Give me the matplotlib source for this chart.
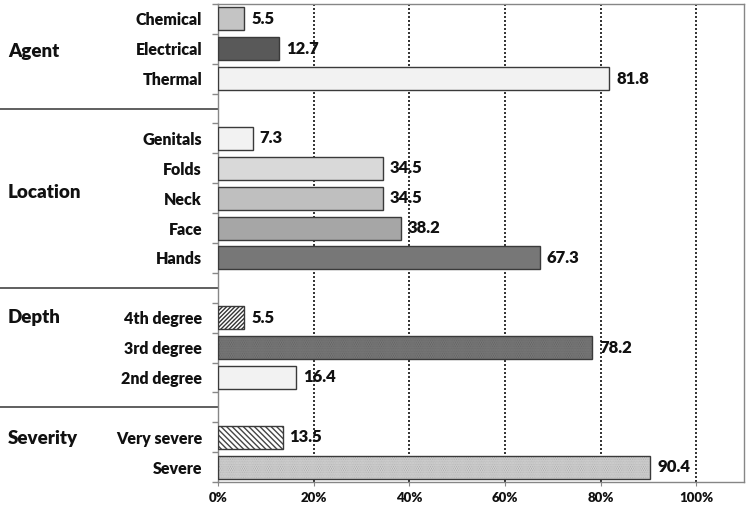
import matplotlib
matplotlib.use("Agg")
import matplotlib.pyplot as plt
import matplotlib.transforms as mtransforms
import numpy as np

plt.rcParams['font.family'] = ['Lato', 'DejaVu Sans']
plt.rcParams['font.weight'] = 'bold'

# ---- data ----
group_names = ['Agent', 'Location', 'Depth', 'Severity']
agent_labels = ['Chemical', 'Electrical', 'Thermal']
agent_values = [5.5, 12.7, 81.8]
location_labels = ['Genitals', 'Folds', 'Neck', 'Face', 'Hands']
location_values = [7.3, 34.5, 34.5, 38.2, 67.3]
depth_labels = ['4th degree', '3rd degree', '2nd degree']
depth_values = [5.5, 78.2, 16.4]
severity_labels = ['Very severe', 'Severe']
severity_values = [13.5, 90.4]
x_ticks = [0, 20, 40, 60, 80, 100]
x_tick_labels = ['0%', '20%', '40%', '60%', '80%', '100%']

# ---- styles (per bar, same order as data) ----
agent_styles = [dict(fc='#c4c4c4'), dict(fc='#595959'), dict(fc='#f2f2f2')]
location_styles = [dict(fc='#f2f2f2'), dict(fc='#d9d9d9'), dict(fc='#bfbfbf'),
                   dict(fc='#a6a6a6'), dict(fc='#777777')]
depth_styles = [dict(fc='white', hatch='////////', hc='#333333'),
                dict(fc='#8a8a8a', hatch='.........', hc='#5a5a5a'),
                dict(fc='#f2f2f2')]
severity_styles = [dict(fc='white', hatch='\\\\\\\\\\\\', hc='#444444'),
                   dict(fc='#f4f4f4', hatch='.........', hc='#9a9a9a')]

groups = [
    (agent_labels, agent_values, agent_styles),
    (location_labels, location_values, location_styles),
    (depth_labels, depth_values, depth_styles),
    (severity_labels, severity_values, severity_styles),
]

# build row positions (one blank row between groups)
row_labels, row_values, row_styles, row_pos = [], [], [], []
group_first = []
pos = 0
for gi, (labs, vals, sty) in enumerate(groups):
    if gi > 0:
        pos += 1  # blank spacer row
    group_first.append(pos)
    for l, v, s in zip(labs, vals, sty):
        row_labels.append(l)
        row_values.append(v)
        row_styles.append(s)
        row_pos.append(pos)
        pos += 1
n_rows = pos

fig = plt.figure(figsize=(7.5, 5.07), dpi=100)
ax = fig.add_axes([218 / 750, 1 - 482 / 507, (744 - 218) / 750, (482 - 4) / 507])

bar_h = 0.77
edge = '#3a3a3a'
for y, v, s in zip(row_pos, row_values, row_styles):
    ax.barh(y, v, height=bar_h, color=s['fc'], edgecolor='none', linewidth=0, zorder=3)
    if 'hatch' in s:
        ax.barh(y, v, height=bar_h, fill=False, hatch=s['hatch'],
                edgecolor=s['hc'], linewidth=0, zorder=4)
    ax.barh(y, v, height=bar_h, fill=False, edgecolor=edge, linewidth=1.0, zorder=5)
    ax.annotate(f'{v:.1f}', xy=(v, y), xytext=(5, 0), textcoords='offset points',
                va='center', ha='left', fontsize=12, fontweight='heavy', color='#111111',
                zorder=6)

ax.set_xlim(0, 110)
ax.set_ylim(n_rows - 0.5, -0.5)

# category axis: labels at centers, tick marks at boundaries
ax.set_yticks(row_pos)
ax.set_yticklabels(row_labels, fontsize=11.5, fontweight='heavy', color='#111111')
ax.tick_params(axis='y', which='major', length=0, pad=11.5)
ax.set_yticks(np.arange(-0.5, n_rows, 1.0), minor=True)
ax.tick_params(axis='y', which='minor', length=4, color='#888888', width=1)

ax.set_xticks(x_ticks)
ax.set_xticklabels(x_tick_labels, fontsize=9.5, fontweight='heavy', color='#111111')
ax.tick_params(axis='x', length=3, color='#888888', pad=4)

ax.grid(axis='x', color='#111111', linestyle=(0, (1.2, 1.2)), linewidth=1.2, zorder=1)
for sp in ax.spines.values():
    sp.set_color('#868686')
    sp.set_linewidth(1.0)

# group labels and separators
trans = mtransforms.blended_transform_factory(fig.transFigure, ax.transData)
group_label_y = [1.1, 5.8, 10.0, 14.05]
for name, gy in zip(group_names, group_label_y):
    ax.text(8 / 750, gy, name, transform=trans,
            ha='left', va='center', fontsize=13.5, fontweight='heavy', color='#111111')

for gf in group_first[1:]:
    ys = gf - 1
    ax.plot([0, 218 / 750], [ys, ys], transform=trans, color='#444444', linewidth=1.2,
            clip_on=False)

fig.savefig('out.png', dpi=100)
